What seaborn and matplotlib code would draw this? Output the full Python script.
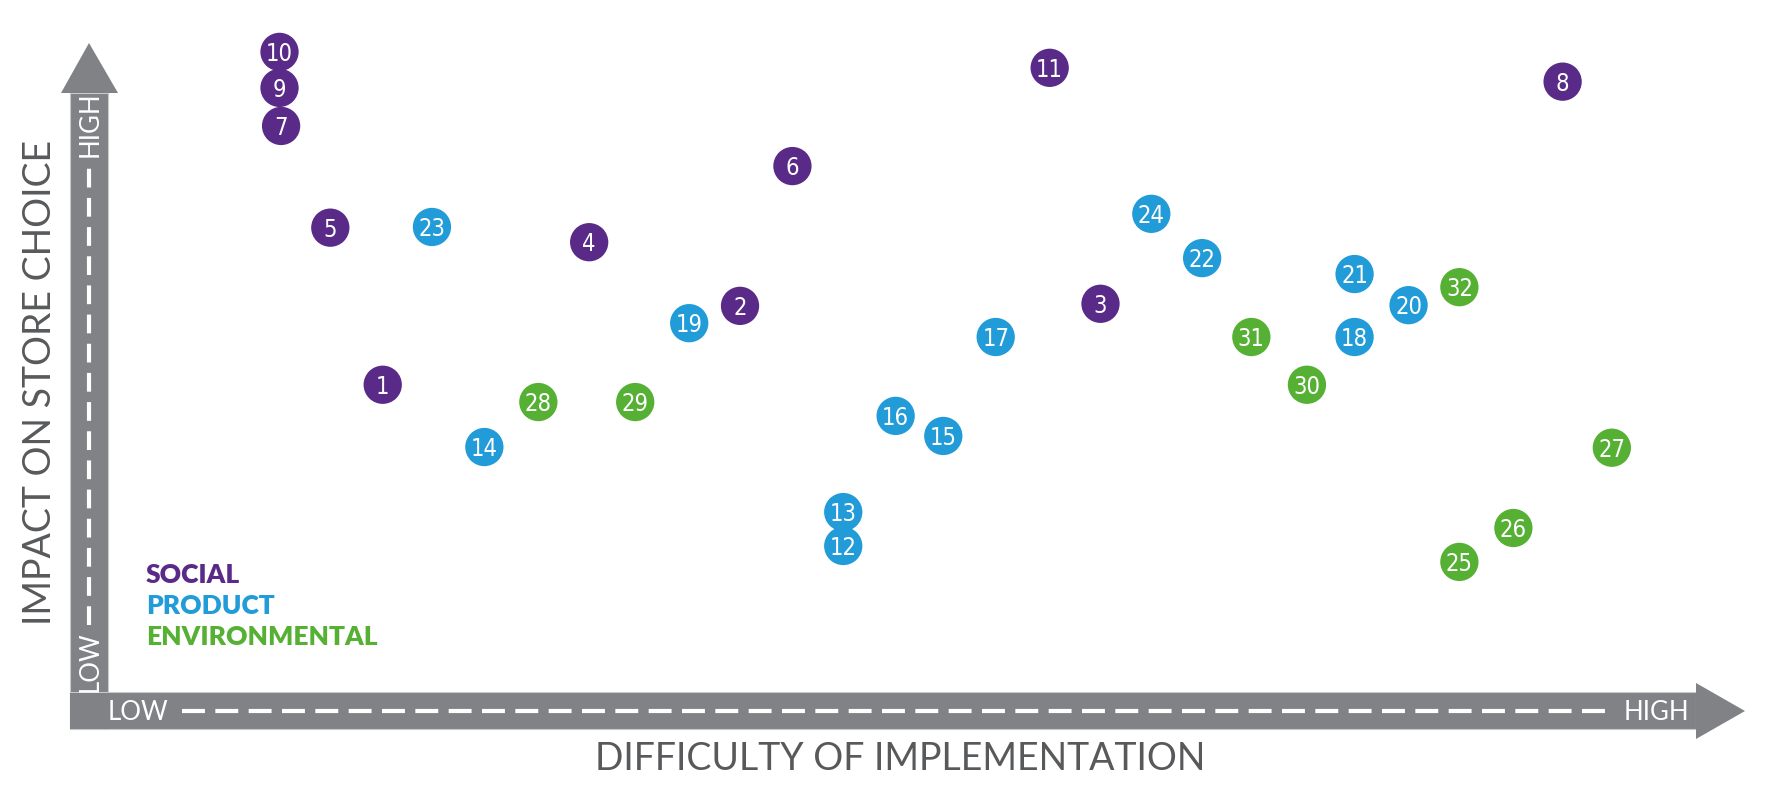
import numpy as np
import pandas as pd
import matplotlib.pyplot as plt
from matplotlib.patches import Polygon, Rectangle
import seaborn as sns

# item numbers, grouped by category
ids = list(range(1, 33))
category = (['Social'] * 11 + ['Product'] * 13 + ['Environmental'] * 8)

# difficulty of implementation (0 = low, 100 = high)
difficulty = [17.3, 39.8, 62.5, 30.3, 14.0, 43.1, 10.9, 91.6, 10.8, 10.8, 59.3,
              46.3, 46.3, 23.7, 52.6, 49.6, 55.9, 78.5, 36.6, 81.9, 78.5, 68.9, 20.4, 65.7,
              85.1, 88.5, 94.7, 27.1, 33.2, 75.5, 72.0, 85.1]
# impact on store choice (0 = low, 100 = high)
impact = [44.4, 55.8, 56.1, 65.0, 67.1, 76.0, 81.8, 88.2, 87.3, 92.5, 90.2,
          21.1, 26.0, 35.4, 37.0, 39.9, 51.3, 51.3, 53.3, 55.9, 60.4, 62.7, 67.2, 69.1,
          18.8, 23.7, 35.3, 41.9, 41.9, 44.4, 51.3, 58.5]

groups = ['Social', 'Product', 'Environmental']
colors = {'Social': '#592a87', 'Product': '#229bd9', 'Environmental': '#55b034'}

df = pd.DataFrame({'id': ids, 'cat': category, 'x': difficulty, 'y': impact})

sns.set_theme(style='white')
plt.rcParams['font.family'] = ['Lato', 'DejaVu Sans']

W, H = 1774, 795
fig = plt.figure(figsize=(W / 100, H / 100), dpi=100)

# decoration layer in pixel units (arrows, labels)
deco = fig.add_axes([0, 0, 1, 1])
deco.set_xlim(0, W)
deco.set_ylim(H, 0)
deco.axis('off')

grey = '#808285'
edge = '#c8c9cb'
# vertical arrow
deco.add_patch(Rectangle((70, 93), 38, 636, facecolor=grey, edgecolor=edge, lw=0.8))
deco.add_patch(Polygon([(61, 93), (89, 43), (118, 93)], closed=True, color=grey, lw=0))
# horizontal arrow
deco.add_patch(Rectangle((70, 692), 1626, 37, facecolor=grey, edgecolor=edge, lw=0.8))
deco.add_patch(Rectangle((70.5, 693), 37, 36, color=grey, lw=0))
deco.add_patch(Polygon([(1696, 683), (1745, 711), (1696, 739)], closed=True, color=grey, lw=0))

# dashed centre lines
deco.plot([182, 1612], [711, 711], color='white', lw=3, dashes=(5.5, 2.5), solid_capstyle='butt')
deco.plot([89, 89], [625, 162], color='white', lw=3, dashes=(4.5, 2.5), solid_capstyle='butt')

deco.text(138, 712, 'LOW', color='white', fontsize=18.5, ha='center', va='center')
deco.text(1656, 712, 'HIGH', color='white', fontsize=18.5, ha='center', va='center')
deco.text(90, 662, 'LOW', color='white', fontsize=18.5, ha='center', va='center', rotation=90)
deco.text(90, 124, 'HIGH', color='white', fontsize=18.5, ha='center', va='center', rotation=90)

deco.text(900, 759, 'DIFFICULTY OF IMPLEMENTATION', color='#58595b', fontsize=27,
          ha='center', va='center')
deco.text(40, 382, 'IMPACT ON STORE CHOICE', color='#58595b', fontsize=27,
          ha='center', va='center', rotation=90)

# legend text
for i, g in enumerate(groups):
    deco.text(146, 575 + i * 31, g.upper(), color=colors[g], fontsize=19,
              fontweight='heavy', ha='left', va='center')

# scatter layer
ax = fig.add_axes([108 / W, (H - 692) / H, 1588 / W, 692 / H])
ax.patch.set_alpha(0)
sns.scatterplot(data=df, x='x', y='y', hue='cat', palette=colors, hue_order=groups,
                s=760, edgecolor='none', legend=False, ax=ax, zorder=3)
for _, r in df.iterrows():
    ax.text(r['x'], r['y'] - 0.3, str(r['id']), color='white', fontsize=17,
            family=['DejaVu Sans'], fontstretch='condensed',
            ha='center', va='center', zorder=4)
ax.set_xlim(0, 100)
ax.set_ylim(0, 100)
ax.axis('off')

fig.savefig('out.png', dpi=100)
